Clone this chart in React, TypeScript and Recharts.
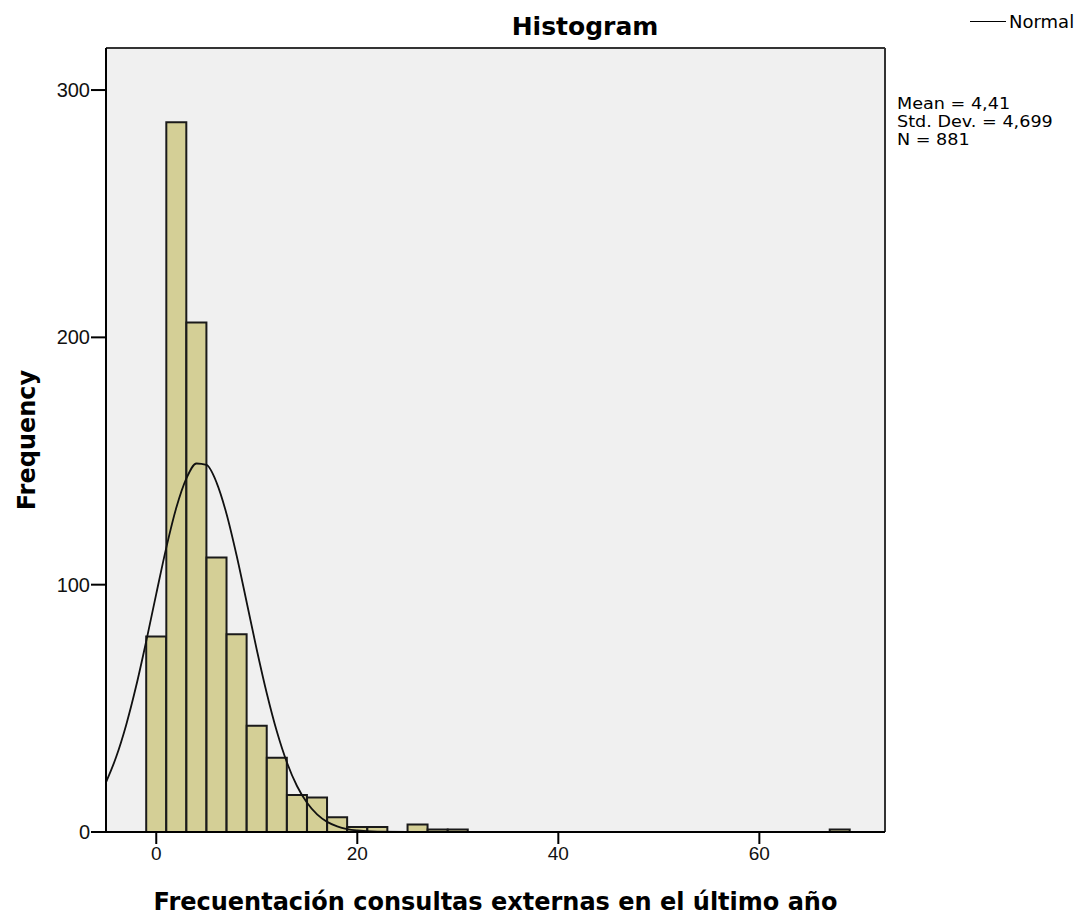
import React from 'react';
import { ComposedChart, Bar, Line, XAxis, YAxis, CartesianGrid } from 'recharts';

// histogram bins (centre of bin, width 2)
const binCentres = [0, 2, 4, 6, 8, 10, 12, 14, 16, 18, 20, 22, 26, 28, 30, 68];
const binCounts = [79, 287, 206, 111, 80, 43, 30, 15, 14, 6, 2, 2, 3, 1, 1, 1];

// normal curve
const curveX = [-5, -4, -3, -2, -1, 0, 1, 2, 3, 4, 5, 6, 7, 8, 9, 10, 11, 12, 13, 14, 15, 16, 17, 18, 19, 20, 22, 25, 30, 72.5];
const curveY = [20.1, 30.2, 43.2, 59, 77.1, 96.3, 115, 131.2, 143, 149, 148.4, 141.3, 128.5, 111.7, 92.8, 73.7, 56, 40.6, 28.1, 18.6, 11.8, 7.1, 4.1, 2.3, 1.2, 0.6, 0.1, 0, 0, 0];

const xTicks = [0, 20, 40, 60];
const yTicks = [0, 100, 200, 300];
const statLines = ['Mean = 4,41', 'Std. Dev. = 4,699', 'N = 881'];

const FONT = '"DejaVu Sans", Arial, sans-serif';
const TICK_FONT = '"Liberation Sans", Arial, sans-serif';
const X_DOMAIN: [number, number] = [-5, 72.5];

export default function App() {
  const bins = binCentres.map((x, i) => ({ x, freq: binCounts[i] }));
  const curve = curveX.map((x, i) => ({ x, normal: curveY[i] }));

  return (
    <div style={{ position: 'absolute', left: 0, top: 0, width: 1080, height: 918, background: '#fff', fontFamily: FONT }}>
      <div style={{ position: 'absolute', left: 585, top: 12, transform: 'translateX(-50%)', fontSize: 25, fontWeight: 'bold', whiteSpace: 'nowrap' }}>
        Histogram
      </div>
      <div style={{ position: 'absolute', left: 970, top: 11, display: 'flex', alignItems: 'center', fontSize: 18 }}>
        <div style={{ width: 36, height: 0, borderTop: '1.5px solid #000', marginRight: 3 }} />
        <span>Normal</span>
      </div>
      <div
        style={{
          position: 'absolute',
          left: 897,
          top: 95,
          fontSize: 16,
          lineHeight: '18px',
          whiteSpace: 'nowrap',
          transform: 'scaleX(1.1)',
          transformOrigin: 'left top',
        }}
      >
        {statLines.map((s) => (
          <div key={s}>{s}</div>
        ))}
      </div>
      <ComposedChart width={1080} height={918} data={bins} margin={{ top: 48, right: 195, bottom: 0, left: 0 }}>
        <CartesianGrid
          fill="#f0f0f0"
          stroke="#333"
          strokeWidth={2}
          horizontalCoordinatesGenerator={({ offset }: any) => [offset.top, offset.top + offset.height]}
          verticalCoordinatesGenerator={({ offset }: any) => [offset.left, offset.left + offset.width]}
        />
        <XAxis
          dataKey="x"
          type="number"
          domain={X_DOMAIN}
          ticks={xTicks}
          allowDataOverflow
          height={86}
          tickSize={12}
          tickMargin={3}
          stroke="#000"
          strokeWidth={2}
          tick={{ fill: '#111', fontSize: 19, fontFamily: TICK_FONT }}
          label={({ viewBox }: any) => (
            <text
              x={viewBox.x + viewBox.width / 2}
              y={viewBox.y + viewBox.height - 8}
              textAnchor="middle"
              fontFamily={FONT}
              fontWeight="bold"
              fontSize={24}
              fill="#000"
            >
              Frecuentación consultas externas en el último año
            </text>
          )}
        />
        <XAxis xAxisId="curve" dataKey="x" type="number" domain={X_DOMAIN} allowDataOverflow hide />
        <YAxis
          type="number"
          domain={[0, 317]}
          ticks={yTicks}
          allowDataOverflow
          width={106}
          tickSize={15}
          tickMargin={1}
          stroke="#000"
          strokeWidth={2}
          tick={{ fill: '#111', fontSize: 20, fontFamily: TICK_FONT }}
          label={({ viewBox }: any) => {
            const cx = 27;
            const cy = viewBox.y + viewBox.height / 2;
            return (
              <text
                x={cx}
                y={cy}
                transform={`rotate(-90 ${cx} ${cy})`}
                textAnchor="middle"
                dominantBaseline="central"
                fontFamily={FONT}
                fontWeight="bold"
                fontSize={24}
                fill="#000"
              >
                Frequency
              </text>
            );
          }}
        />
        <Bar dataKey="freq" barSize={20} fill="#d4cf96" stroke="#1a1a1a" strokeWidth={2} isAnimationActive={false} />
        <Line
          data={curve}
          xAxisId="curve"
          dataKey="normal"
          type="monotone"
          dot={false}
          stroke="#111"
          strokeWidth={1.8}
          isAnimationActive={false}
          legendType="none"
        />
      </ComposedChart>
    </div>
  );
}
